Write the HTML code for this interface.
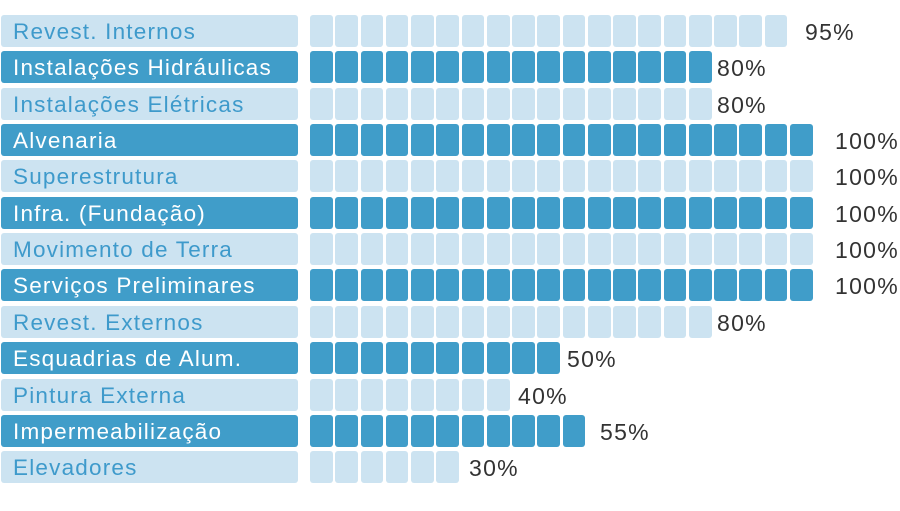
<!DOCTYPE html><html><head><style>
body{margin:0;width:900px;height:511px;background:#fff;position:relative;overflow:hidden;font-family:"Liberation Sans",sans-serif}
.l{position:absolute;left:1px;width:297px;height:32px;border-radius:3px;font-size:22.5px;letter-spacing:1.2px;line-height:34px;padding-left:12px;box-sizing:border-box;white-space:nowrap}
.b{position:absolute;width:22.7px;height:32px;border-radius:3px}
.d{background:#409dc9;color:#fff}.g{background:#cce3f1;color:#3e9acb}
.p{position:absolute;font-size:23px;letter-spacing:1.3px;line-height:34px;color:#333}
</style></head><body>
<script>
var rows=[["Revest. Internos",19,"95%",805],["Instalações Hidráulicas",16,"80%",717],["Instalações Elétricas",16,"80%",717],["Alvenaria",20,"100%",835],["Superestrutura",20,"100%",835],["Infra. (Fundação)",20,"100%",835],["Movimento de Terra",20,"100%",835],["Serviços Preliminares",20,"100%",835],["Revest. Externos",16,"80%",717],["Esquadrias de Alum.",10,"50%",567],["Pintura Externa",8,"40%",518],["Impermeabilização",11,"55%",600],["Elevadores",6,"30%",469]];
var h="";rows.forEach(function(r,i){var y=15+i*36.35,c=i%2?"d":"g";
h+='<div class="l '+c+'" style="top:'+y+'px">'+r[0]+'</div>';
for(var k=0;k<r[1];k++)h+='<div class="b '+c+'" style="top:'+y+'px;left:'+(310+k*25.26)+'px"></div>';
h+='<div class="p" style="top:'+y+'px;left:'+r[3]+'px">'+r[2]+'</div>';});
document.write(h);
</script>
</body></html>
